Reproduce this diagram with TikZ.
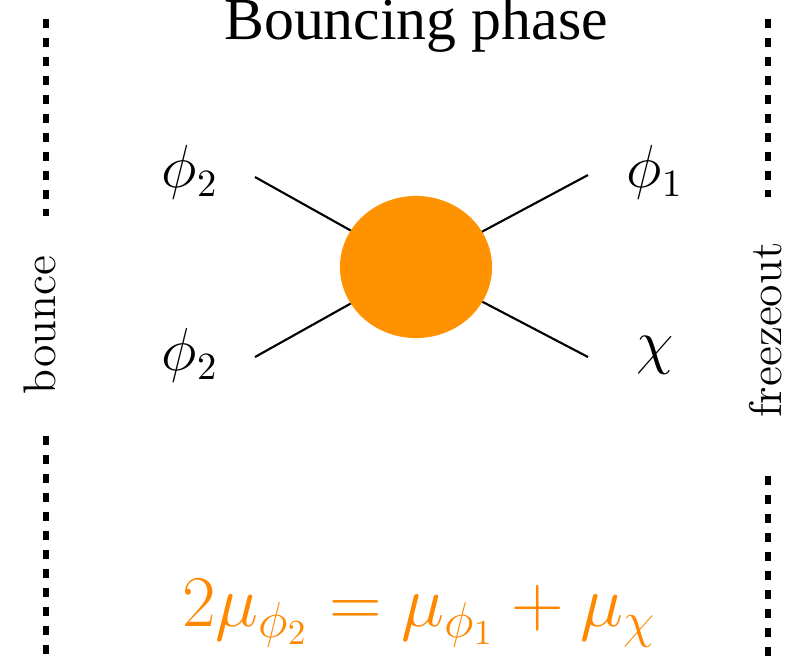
\documentclass[tikz,border=0pt]{standalone}
\usepackage{amsmath,amssymb}
\usepackage{fontspec}
\newfontfamily\titlefont{Liberation Serif}
\usetikzlibrary{positioning,calc,shapes.geometric}
\definecolor{naranja}{RGB}{255,146,0}
\definecolor{naranjatext}{RGB}{255,136,0}

\begin{document}
\begin{tikzpicture}[x=0.01cm, y=-0.01cm, font=\fontsize{16}{19}\selectfont,
	   wall/.style={line width=1.45pt, dash pattern=on 2.6pt off 2.8pt},
	   leg/.style={line width=0.6pt},
	   side/.style={rotate=90, font=\fontsize{13}{15}\selectfont}]
	  \useasboundingbox (0,0) rectangle (794,656);
	  \node[font=\titlefont\fontsize{17}{20}\selectfont] (title) at (416,25) {Bouncing phase};
	  % the two walls in time
	  \coordinate (bt) at (46,19); \coordinate (bm) at (46,216);
	  \coordinate (bl) at (46,436); \coordinate (bb) at (46,660);
	  \coordinate (ft) at (768,19); \coordinate (fm) at (768,197);
	  \coordinate (fl) at (768,476); \coordinate (fb) at (768,660);
	  \draw[wall] (bt)--(bm); \draw[wall] (bl)--(bb);
	  \draw[wall] (ft)--(fm); \draw[wall] (fl)--(fb);
	  \node[side] (bounce) at (40,325) {bounce};
	  \node[side] (freeze) at (766,330) {freezeout};
	  % external legs
	  \node (inA) at (190,172) {$\phi_2$};
	  \node (inB) at (190,355) {$\phi_2$};
	  \node (outA) at (655,172) {$\phi_1$};
	  \node (outB) at (655,355) {$\chi$};
	  \coordinate (c) at (416,267);
	  \coordinate (la) at (255,177); \coordinate (lb) at (255,357);
	  \coordinate (ra) at (588,175); \coordinate (rb) at (588,357);
	  \draw[leg] (la)--(c); \draw[leg] (lb)--(c);
	  \draw[leg] (ra)--(c); \draw[leg] (rb)--(c);
	  \node[ellipse, fill=naranja, inner sep=0pt,
	    minimum width=1.52cm, minimum height=1.42cm] (blob) at (c) {};
	  \node[text=naranjatext, font=\fontsize{19.7}{23}\selectfont] (rel) at (419,613)
	    {$2\mu_{\phi_2}=\mu_{\phi_1}+\mu_\chi$};
	\end{tikzpicture}
\end{document}
